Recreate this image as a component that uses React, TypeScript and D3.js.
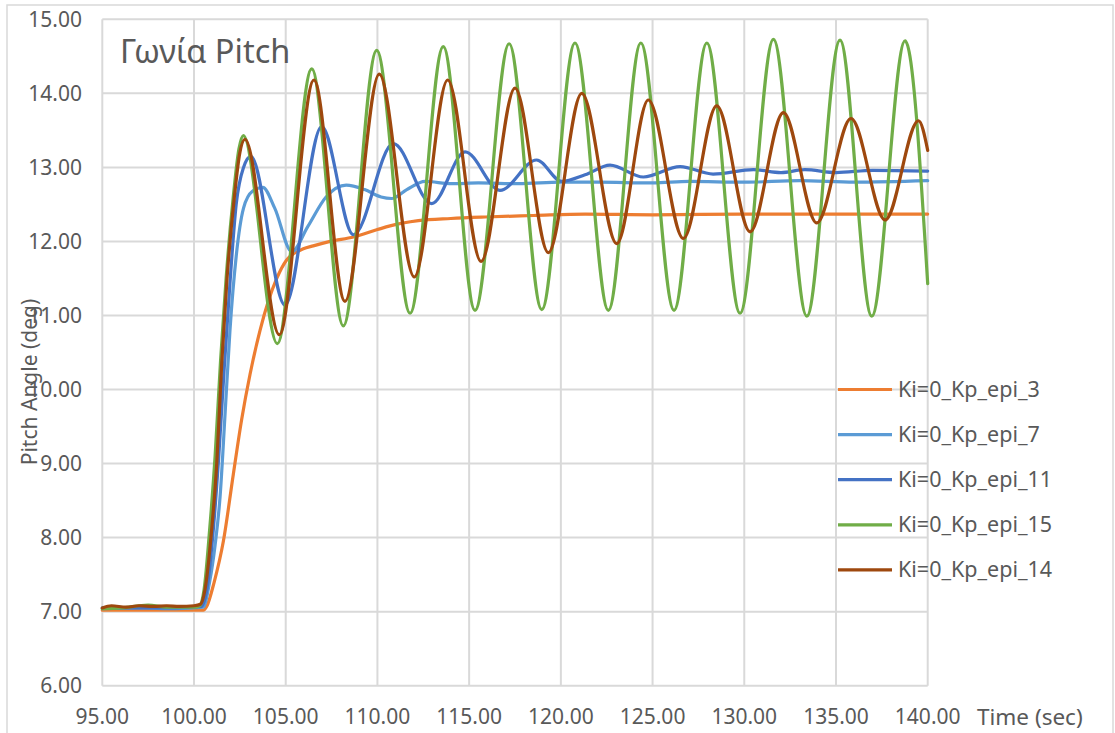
import React from "react";
import * as d3 from "d3";

type Pt = [number, number];

// Legend order and palette
const seriesNames = [
  "Ki=0_Kp_epi_3",
  "Ki=0_Kp_epi_7",
  "Ki=0_Kp_epi_11",
  "Ki=0_Kp_epi_15",
  "Ki=0_Kp_epi_14",
];
const seriesColors = ["#ED7D31", "#5B9BD5", "#4472C4", "#70AD47", "#9E480E"];

const xTicks = [95, 100, 105, 110, 115, 120, 125, 130, 135, 140];
const yTicks = [6, 7, 8, 9, 10, 11, 12, 13, 14, 15];

// Pitch angle (deg) against time (sec) for each gain
const kp3: Pt[] = [
  [95, 7.02], [97, 7.02], [99, 7.02], [100.5, 7.02], [100.69, 7.07], [101.1, 7.4],
  [101.6, 7.95], [102.14, 8.85], [102.6, 9.6], [103.05, 10.2], [103.6, 10.8],
  [104.51, 11.5], [105.05, 11.75], [105.96, 11.9], [106.5, 11.94], [107.42, 12.0],
  [108.7, 12.06], [110.0, 12.16], [110.69, 12.21], [112.23, 12.28], [114, 12.31],
  [115.87, 12.33], [118.5, 12.35], [121.32, 12.37], [125, 12.36], [130, 12.37],
  [135, 12.37], [140, 12.37],
];

const kp7: Pt[] = [
  [95, 7.04], [97, 7.05], [99, 7.04], [100.5, 7.06], [100.85, 7.4], [101.15, 7.9],
  [101.42, 8.55], [101.7, 9.7], [101.96, 10.8], [102.3, 11.8], [102.7, 12.45],
  [103.2, 12.68], [103.75, 12.73], [104.4, 12.45], [105.33, 11.86], [106.2, 12.2],
  [107.2, 12.6], [108.3, 12.76], [109.3, 12.7], [110.2, 12.6], [110.78, 12.58],
  [111.6, 12.7], [112.6, 12.81], [114.05, 12.78], [115.5, 12.79], [117.68, 12.78],
  [120, 12.8], [122, 12.8], [125, 12.79], [127, 12.81], [130, 12.8], [133, 12.82],
  [136, 12.8], [140, 12.82],
];

const kp11: Pt[] = [
  [95, 7.05], [97, 7.05], [99, 7.05], [100.4, 7.07], [100.7, 7.3], [101.05, 8.1],
  [101.35, 9.1], [101.65, 10.3], [101.95, 11.4], [102.3, 12.5], [102.7, 13.0],
  [103.1, 13.15], [104.96, 11.14], [106.96, 13.55], [108.69, 12.09], [110.87, 13.32],
  [112.96, 12.51], [114.78, 13.21], [116.68, 12.69], [118.68, 13.1], [120.05, 12.81],
  [121.32, 12.9], [122.68, 13.03], [124.5, 12.87], [126.5, 13.01], [128.3, 12.91],
  [130.5, 12.97], [132, 12.93], [133.3, 12.97], [135, 12.93], [137, 12.96], [140, 12.95],
];

const kp15: Pt[] = [
  [95, 7.04], [96, 7.05], [97.5, 7.09], [98.5, 7.06], [100, 7.06], [100.3, 7.08],
  [100.55, 7.3], [100.85, 8.1], [101.15, 9.1], [101.45, 10.4], [101.75, 11.5],
  [102.14, 12.6], [102.45, 13.25], [102.69, 13.43], [104.54, 10.62], [106.42, 14.33],
  [108.14, 10.86], [109.96, 14.58], [111.78, 11.03], [113.59, 14.63], [115.32, 11.07],
  [117.18, 14.67], [118.96, 11.08], [120.77, 14.68], [122.59, 11.07], [124.36, 14.68],
  [126.17, 11.07], [127.96, 14.68], [129.77, 11.03], [131.59, 14.73], [133.41, 10.99],
  [135.22, 14.72], [136.95, 10.99], [138.77, 14.71], [140, 11.43],
];

const kp14: Pt[] = [
  [95, 7.05], [95.5, 7.08], [96.3, 7.06], [97, 7.08], [97.8, 7.07], [98.5, 7.08],
  [99.2, 7.07], [100, 7.08], [100.35, 7.1], [100.6, 7.3], [100.96, 8.1], [101.24, 9.0],
  [101.51, 10.35], [101.8, 11.5], [102.2, 12.6], [102.5, 13.2], [102.78, 13.38],
  [104.65, 10.74], [106.54, 14.18], [108.23, 11.19], [110.1, 14.26], [112.01, 11.52],
  [113.83, 14.18], [115.65, 11.73], [117.5, 14.07], [119.32, 11.85], [121.14, 14.0],
  [123.05, 11.97], [124.77, 13.91], [126.68, 12.04], [128.5, 13.83], [130.32, 12.13],
  [132.13, 13.74], [133.95, 12.25], [135.82, 13.66], [137.68, 12.29], [139.5, 13.63],
  [140, 13.23],
];

const seriesData: Pt[][] = [kp3, kp7, kp11, kp15, kp14];

const W = 1115;
const H = 733;
const FONT = "'Noto Sans', 'Open Sans', sans-serif";
const TEXT = "#595959";
const GRID = "#d9d9d9";

export default function App() {
  const x = d3.scaleLinear().domain([95, 140]).range([102.3, 927.7]);
  const y = d3.scaleLinear().domain([6, 15]).range([685.7, 19.3]);
  const fmt = d3.format(".2f");
  const line = d3
    .line<Pt>()
    .x((d) => x(d[0]))
    .y((d) => y(d[1]))
    .curve(d3.curveMonotoneX);

  const legendX0 = 838;
  const legendX1 = 892;
  const legendY0 = 389.5;
  const legendStep = 45.1;

  return (
    <svg
      width={W}
      height={H}
      style={{ position: "absolute", left: 0, top: 0, background: "#fff" }}
      fontFamily={FONT}
    >
      <rect x={0} y={0} width={W} height={H} fill="#fff" />
      <rect x={7} y={5} width={1106} height={740} fill="none" stroke={GRID} strokeWidth={1.5} />

      {/* grid */}
      {yTicks.map((t) => (
        <line key={"gy" + t} x1={x(95)} x2={x(140)} y1={y(t)} y2={y(t)} stroke={GRID} strokeWidth={2} />
      ))}
      {xTicks.map((t) => (
        <line key={"gx" + t} x1={x(t)} x2={x(t)} y1={y(6)} y2={y(15)} stroke={GRID} strokeWidth={2} />
      ))}

      {/* tick labels */}
      {yTicks.map((t) => (
        <text key={"ly" + t} x={82} y={y(t)} dy="0.35em" textAnchor="end" fontSize={21} fill={TEXT}>
          {fmt(t)}
        </text>
      ))}
      {xTicks.map((t) => (
        <text key={"lx" + t} x={x(t)} y={717} dy="0.35em" textAnchor="middle" fontSize={21} fill={TEXT}>
          {fmt(t)}
        </text>
      ))}
      <text x={977} y={717} dy="0.35em" fontSize={22.5} fill={TEXT}>
        Time (sec)
      </text>

      {/* series */}
      {seriesData.map((d, i) => (
        <path
          key={"s" + i}
          d={line(d) ?? ""}
          fill="none"
          stroke={seriesColors[i]}
          strokeWidth={3.2}
          strokeLinejoin="round"
          strokeLinecap="round"
        />
      ))}

      <text
        transform={`translate(37, 382) rotate(-90)`}
        textAnchor="middle"
        fontSize={21}
        fill={TEXT}
      >
        Pitch Angle (deg)
      </text>

      <text x={120} y={63} fontSize={32.5} fill={TEXT}>
        Γωνία Pitch
      </text>

      {/* legend */}
      {seriesNames.map((n, i) => {
        const ly = legendY0 + i * legendStep;
        return (
          <g key={"lg" + i}>
            <line x1={legendX0} x2={legendX1} y1={ly} y2={ly} stroke={seriesColors[i]} strokeWidth={3.2} />
            <text x={898} y={ly} dy="0.35em" fontSize={21.5} fill={TEXT}>
              {n}
            </text>
          </g>
        );
      })}
    </svg>
  );
}
